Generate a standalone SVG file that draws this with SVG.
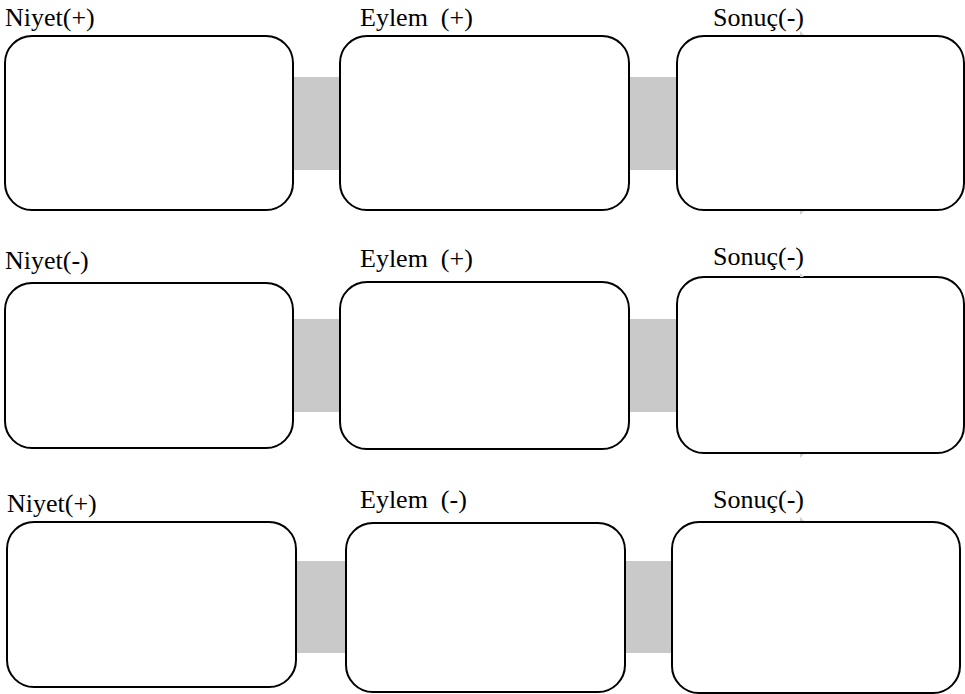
<svg xmlns="http://www.w3.org/2000/svg" width="965" height="694" viewBox="0 0 965 694">
<style>
.box{fill:#fff;stroke:#000;stroke-width:2}
.bar{fill:#c9c9c9;stroke:none}
.lbl{font-size:26px;fill:#000}
.tick{fill:#d0d0d0;stroke:none}
</style>
<rect width="965" height="694" fill="#fff"/>
<g id="connectors">
<rect class="bar" x="292" y="77" width="50" height="93"/>
<rect class="bar" x="628" y="77" width="50" height="93"/>
<rect class="bar" x="292" y="319" width="50" height="93"/>
<rect class="bar" x="628" y="319" width="50" height="93"/>
<rect class="bar" x="295" y="561" width="52" height="92"/>
<rect class="bar" x="624" y="561" width="50" height="92"/>
</g>
<g font-family="'Liberation Serif', 'Times New Roman', Tinos, 'DejaVu Serif', serif">
<g id="r1n1"><rect class="box" x="5" y="36" width="288" height="174" rx="27"/><text class="lbl" x="5" y="26">Niyet(+)</text></g>
<g id="r1n2"><rect class="box" x="340" y="36" width="289" height="174" rx="27"/><text class="lbl" x="360" y="26" xml:space="preserve">Eylem  (+)</text></g>
<g id="r1n3"><rect class="box" x="677" y="36" width="287" height="174" rx="27"/><text class="lbl" x="713" y="26">Sonuç(-)</text></g>
<g id="r2n1"><rect class="box" x="5" y="283" width="288" height="165" rx="27"/><text class="lbl" x="5" y="269">Niyet(-)</text></g>
<g id="r2n2"><rect class="box" x="340" y="282" width="289" height="167" rx="27"/><text class="lbl" x="360" y="267" xml:space="preserve">Eylem  (+)</text></g>
<g id="r2n3"><rect class="box" x="677" y="277" width="287" height="176" rx="27"/><text class="lbl" x="713" y="265">Sonuç(-)</text></g>
<g id="r3n1"><rect class="box" x="7" y="522" width="289" height="165" rx="27"/><text class="lbl" x="7" y="512">Niyet(+)</text></g>
<g id="r3n2"><rect class="box" x="346" y="523" width="279" height="169" rx="27"/><text class="lbl" x="360" y="508" xml:space="preserve">Eylem  (-)</text></g>
<g id="r3n3"><rect class="box" x="672" y="522" width="288" height="171" rx="27"/><text class="lbl" x="713" y="508">Sonuç(-)</text></g>
</g>
<g id="marks">
<path class="tick" d="M800 31 L804 35 L800 35 Z"/>
<path class="tick" d="M800 211 L804 211 L800 215 Z"/>
<path class="tick" d="M800 273 L804 277 L800 277 Z"/>
<path class="tick" d="M800 454 L804 454 L800 458 Z"/>
<path class="tick" d="M800 517 L804 521 L800 521 Z"/>
</g>
</svg>
